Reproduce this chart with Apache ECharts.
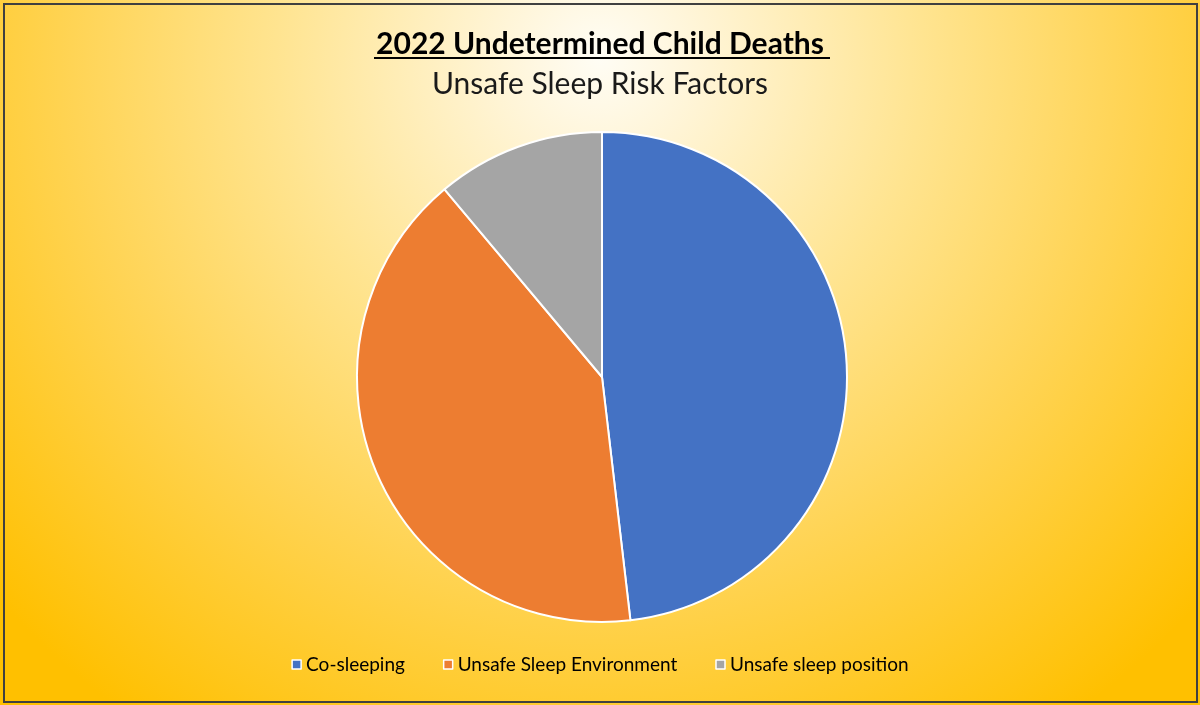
<!DOCTYPE html>
<html><head><meta charset="utf-8">
<script src="https://cdn.jsdelivr.net/npm/echarts@6/dist/echarts.min.js"></script>
<style>html,body{margin:0;padding:0;background:#f0f0f0;}#c{width:1200px;height:705px;}</style>
</head><body><div id="c"></div>
<script>
const categories = ['Co-sleeping', 'Unsafe Sleep Environment', 'Unsafe sleep position'];
const values = [13, 11, 3];
const colors = ['#4472C4', '#ED7D31', '#A5A5A5'];
const titleText = '2022 Undetermined Child Deaths';
const subtitleText = 'Unsafe Sleep Risk Factors';

const chart = echarts.init(document.getElementById('c'));
const font = 'Lato, "Open Sans", sans-serif';
chart.setOption({
  backgroundColor: {
    type: 'radial', x: 0.5, y: 0.08, r: 1.15,
    colorStops: [
      {offset: 0, color: '#FFFDF5'},
      {offset: 0.12, color: '#FFF5D8'},
      {offset: 0.4, color: '#FFE490'},
      {offset: 0.65, color: '#FFD455'},
      {offset: 1, color: '#FFC000'}
    ]
  },
  animation: false,
  title: [
    {text: titleText, left: 'center', top: 24,
     textStyle: {fontFamily: font, fontSize: 30, fontWeight: 'bold', color: '#000'}},
    {text: subtitleText, left: 'center', top: 64,
     textStyle: {fontFamily: font, fontSize: 30, fontWeight: 'normal', color: '#1a1a1a'}}
  ],
  legend: {
    bottom: 26, left: 'center', itemWidth: 9, itemHeight: 9, itemGap: 38,
    icon: 'rect',
    itemStyle: {borderColor: '#fff', borderWidth: 1.5},
    textStyle: {fontFamily: font, fontSize: 19, color: '#000'},
    data: categories
  },
  graphic: [
    {type: 'rect', shape: {x: 4, y: 4, width: 1193, height: 698},
     style: {fill: 'none', stroke: '#404040', lineWidth: 2}, silent: true},
    {type: 'line', shape: {x1: 374, y1: 58, x2: 830, y2: 58},
     style: {stroke: '#000', lineWidth: 2}, silent: true}
  ],
  series: [{
    type: 'pie',
    center: [602, 377],
    radius: 245,
    startAngle: 90,
    clockwise: true,
    label: {show: false},
    labelLine: {show: false},
    itemStyle: {borderColor: '#fff', borderWidth: 2},
    data: categories.map((c, i) => ({name: c, value: values[i], itemStyle: {color: colors[i]}}))
  }]
});
</script></body></html>
